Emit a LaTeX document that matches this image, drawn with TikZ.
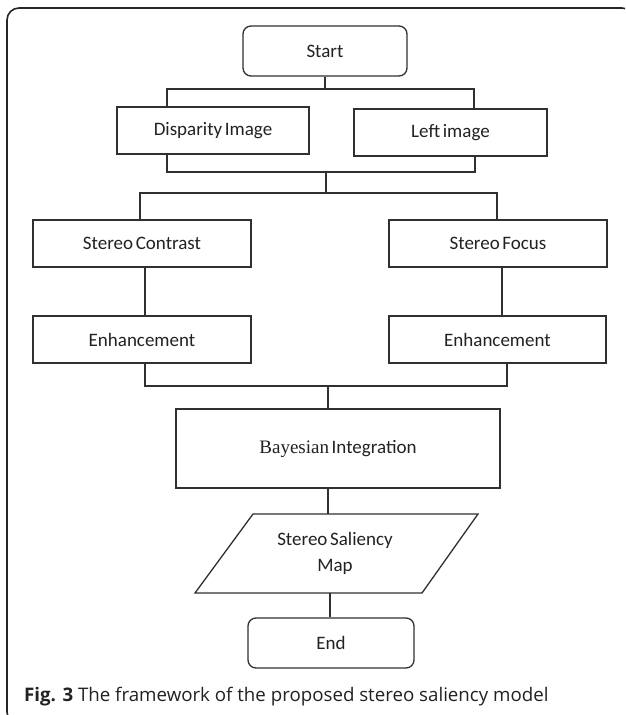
\documentclass[tikz,border=0pt]{standalone}
\usepackage{fontspec}
\setmainfont{Carlito}
\newfontfamily\capfont{Open Sans}
\newfontfamily\serfont{Liberation Serif}
\usetikzlibrary{calc}
\definecolor{linegray}{HTML}{303030}
\definecolor{txtgray}{HTML}{222222}
\newcommand\boxfont{\fontsize{19}{25}\selectfont\spaceskip=0.14em\relax}
\tikzset{
  boxtxt/.style={font={\boxfont}, text=txtgray},
  box/.style={draw=linegray, line width=1.3pt, inner sep=0pt, boxtxt, align=center},
  term/.style={box, rounded corners=8pt},
  conn/.style={draw=linegray, line width=1.2pt},
  framestyle/.style={draw=black!85, line width=1.6pt, rounded corners=12pt}
}
\begin{document}
\begin{tikzpicture}[x=1pt,y=-1pt]
\useasboundingbox (0,0) rectangle (625,715);
\clip (0,0) rectangle (625,715);
\fill[white] (0,0) rectangle (625,715);
\draw[framestyle] (7,8) rectangle (634,724);

\node[term, minimum width=164pt, minimum height=50pt] (start) at (325,51) {Start};
\node[box, minimum width=192pt, minimum height=47pt] (disp) at (213,130.5) {Disparity Image};
\node[box, minimum width=193pt, minimum height=47pt] (left) at (450.5,132.5) {Left image};
\node[box, minimum width=218pt, minimum height=47pt] (sc) at (142,243.5) {Stereo Contrast};
\node[box, minimum width=218pt, minimum height=47pt] (sf) at (498,243.5) {Stereo Focus};
\node[box, minimum width=218pt, minimum height=47pt] (enl) at (142,339.5) {Enhancement};
\node[box, minimum width=217pt, minimum height=47pt] (enr) at (497.5,339.5) {Enhancement};
\node[box, minimum width=324pt, minimum height=79pt] (bayes) at (338,448.5) {{\serfont Bayesian} Integration};

\coordinate (p1) at (253,514);
\coordinate (p2) at (478,514);
\coordinate (p3) at (422,593);
\coordinate (p4) at (195,593);
\draw[conn, line width=1.3pt] (p1) -- (p2) -- (p3) -- (p4) -- cycle;
\node[boxtxt, align=center, inner sep=0pt] (map) at (335,553.5) {Stereo Saliency\\[1pt]Map};

\node[term, minimum width=166pt, minimum height=50pt] (end) at (331,643) {End};

% connectors
\coordinate (bus1l) at (167,89);
\coordinate (bus1r) at (474,89);
\draw[conn] (start.south) -- (start.south |- bus1l);
\draw[conn] (disp.north -| bus1l) -- (bus1l) -- (bus1r) -- (left.north -| bus1r);

\coordinate (bus2l) at (167,172);
\coordinate (bus2r) at (475,172);
\draw[conn] (disp.south -| bus2l) -- (bus2l) -- (bus2r) -- (left.south -| bus2r);

\coordinate (bus3l) at (140,193);
\coordinate (bus3r) at (497,193);
\coordinate (bus3m) at (326,193);
\draw[conn] (bus3m |- bus2l) -- (bus3m);
\draw[conn] (sc.north -| bus3l) -- (bus3l) -- (bus3r) -- (sf.north -| bus3r);

\coordinate (vl) at (145,0);
\coordinate (vr) at (502,0);
\draw[conn] (sc.south -| vl) -- (enl.north -| vl);
\draw[conn] (sf.south -| vr) -- (enr.north -| vr);

\coordinate (bus4l) at (145,386);
\coordinate (bus4r) at (507,386);
\coordinate (bus4m) at (328,386);
\draw[conn] (enl.south -| bus4l) -- (bus4l) -- (bus4r) -- (enr.south -| bus4r);
\draw[conn] (bus4m) -- (bayes.north -| bus4m);
\draw[conn] (bayes.south -| bus4m) -- (bus4m |- p1);

\coordinate (m5) at (330,593);
\draw[conn] (m5) -- (end.north -| m5);

\node[anchor=base west, inner sep=0pt, text=txtgray, font=\capfont\fontsize{18.7}{22}\selectfont] (cap) at (24,701) {\textbf{Fig. 3} The framework of the proposed stereo saliency model};
\end{tikzpicture}
\end{document}
